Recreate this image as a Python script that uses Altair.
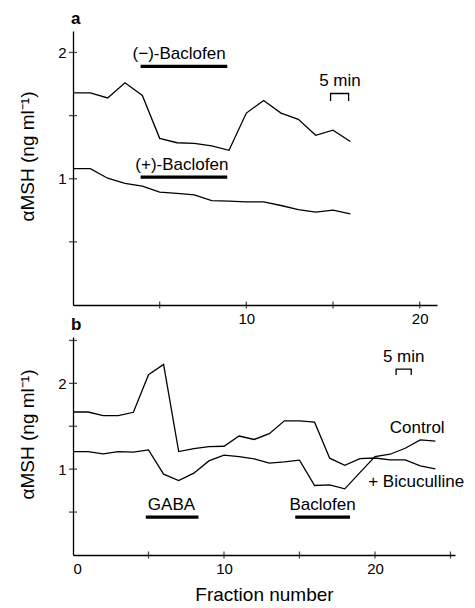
import altair as alt
import pandas as pd

FONT = "Liberation Sans"

# ---------------- Panel a ----------------
frac_a = list(range(17))
minus_baclofen = [1.68, 1.68, 1.64, 1.76, 1.66, 1.32, 1.285, 1.28, 1.26, 1.225, 1.52, 1.62,
                  1.52, 1.47, 1.344, 1.384, 1.295]
plus_baclofen = [1.08, 1.08, 1.004, 0.964, 0.942, 0.894, 0.884, 0.873, 0.826, 0.823, 0.816,
                 0.816, 0.788, 0.756, 0.736, 0.752, 0.721]

# ---------------- Panel b ----------------
frac_b = list(range(25))
bicuculline = [1.666, 1.666, 1.623, 1.623, 1.663, 2.10, 2.22, 1.205, 1.24, 1.263, 1.267,
               1.386, 1.346, 1.414, 1.563, 1.563, 1.548, 1.128, 1.046, 1.123, 1.13, 1.108,
               1.108, 1.038, 1.003]
control = [1.205, 1.205, 1.178, 1.205, 1.198, 1.224, 0.942, 0.868, 0.953, 1.096, 1.163,
           1.147, 1.12, 1.07, 1.086, 1.106, 0.81, 0.817, 0.771, 0.96, 1.147, 1.174, 1.244,
           1.341, 1.326]

# axis ticks
ya_ticks = [0.5, 1, 1.5, 2]
xa_ticks = [5, 10, 15, 20]
yb_ticks = [0.5, 1, 1.5, 2, 2.5]
xb_ticks = [5, 10, 15, 20, 25]
ya_labels = [1, 2]
xa_labels = [10, 20]
yb_labels = [1, 2]
xb_labels = [0, 10, 20]

# annotations (data units)
bars_a_x = [3.9, 3.9]
bars_a_x2 = [8.9, 8.9]
bars_a_y = [1.89, 1.013]
texts_a = ["(\u2212)-Baclofen", "(+)-Baclofen", "5 min"]
texts_a_x = [6.12, 6.28, 15.4]
texts_a_y = [1.99, 1.108, 1.775]
bracket_a_x = [14.86, 14.86, 15.9, 15.9]
bracket_a_y = [1.616, 1.675, 1.675, 1.616]

bars_b_x = [4.82, 14.72]
bars_b_x2 = [8.31, 18.35]
bars_b_y = [0.442, 0.442]
texts_b = ["GABA", "Baclofen", "Control", "5 min"]
texts_b_x = [6.52, 16.53, 22.8, 21.9]
texts_b_y = [0.585, 0.585, 1.477, 2.31]
bic_text = ["+ Bicuculline"]
bic_text_x = [19.55]
bic_text_y = [0.845]
bracket_b_x = [21.4, 21.4, 22.4, 22.4]
bracket_b_y = [2.097, 2.166, 2.166, 2.097]

YTITLE = "\u03b1MSH (ng ml\u207b\u00b9)"


def series_df(xs, named):
    rows = []
    for name, vals in named.items():
        for x, v in zip(xs, vals):
            rows.append({"x": x, "y": v, "series": name})
    return pd.DataFrame(rows)


def panel(line_df, xdom, ydom, w, h, xticks, yticks, xlabels, ylabels,
          bars, texts, bracket, extra_text, letter, xtitle, title_y):
    xs = alt.Scale(domain=xdom, nice=False, zero=False)
    ys = alt.Scale(domain=ydom, nice=False, zero=False)
    xaxis = alt.Axis(values=xlabels, ticks=False, tickSize=0, labelPadding=6,
                     labelFontSize=15, labelFont=FONT, domainWidth=1.3,
                     titleFont=FONT, titleFontSize=19,
                     titleFontWeight="normal", titlePadding=9, grid=False)
    yaxis = alt.Axis(values=ylabels, ticks=False, tickSize=0, labelPadding=7,
                     labelFontSize=15, labelFont=FONT, domainWidth=1.3,
                     titleFont=FONT, titleFontSize=19,
                     titleFontWeight="normal", titleX=-36, titleY=title_y,
                     titleBaseline="bottom", grid=False)
    xt = xtitle if xtitle else None
    X = lambda f: alt.X(f, scale=xs, axis=xaxis, title=xt)
    Y = lambda f: alt.Y(f, scale=ys, axis=yaxis, title=YTITLE)
    lines = alt.Chart(line_df).mark_line(color="black", strokeWidth=1.3).encode(
        x=X("x:Q"), y=Y("y:Q"), detail="series:N",
    )
    ytk = alt.Chart(pd.DataFrame({"y": yticks})).mark_tick(
        orient="horizontal", size=8, thickness=1.3, color="black").encode(
        x=alt.XDatum(xdom[0], type="quantitative", scale=xs, axis=xaxis, title=xt),
        y=Y("y:Q"))
    xtk = alt.Chart(pd.DataFrame({"x": xticks})).mark_tick(
        orient="vertical", size=7, thickness=1.3, color="black").encode(
        x=X("x:Q"),
        y=alt.YDatum(ydom[0], type="quantitative", scale=ys, axis=yaxis, title=YTITLE))
    bar = alt.Chart(bars).mark_rule(color="black", strokeWidth=3.2).encode(
        x=X("x:Q"), x2="x2:Q", y=Y("y:Q"))
    txt = alt.Chart(texts).mark_text(font=FONT, fontSize=17, align="center",
                                     baseline="middle", color="black").encode(
        x=X("x:Q"), y=Y("y:Q"), text="t:N")
    br = alt.Chart(bracket).mark_line(color="black", strokeWidth=1.3).encode(
        x=X("x:Q"), y=Y("y:Q"), order="o:Q")
    layers = [lines, ytk, xtk, bar, txt, br]
    if extra_text is not None:
        layers.append(alt.Chart(extra_text).mark_text(
            font=FONT, fontSize=17, align="left", baseline="middle", color="black").encode(
            x=X("x:Q"), y=Y("y:Q"), text="t:N"))
    return alt.layer(*layers).properties(
        width=w, height=h,
        title=alt.TitleParams(letter, anchor="start", frame="group", font=FONT,
                              fontSize=17, fontWeight="bold", offset=3, dx=-2),
    )


df_a = series_df(frac_a, {"(-)-Baclofen": minus_baclofen, "(+)-Baclofen": plus_baclofen})
df_b = series_df(frac_b, {"Control": control, "Bicuculline": bicuculline})

bars_a = pd.DataFrame({"x": bars_a_x, "x2": bars_a_x2, "y": bars_a_y})
texts_a_df = pd.DataFrame({"t": texts_a, "x": texts_a_x, "y": texts_a_y})
bracket_a = pd.DataFrame({"x": bracket_a_x, "y": bracket_a_y, "o": list(range(4))})

bars_b = pd.DataFrame({"x": bars_b_x, "x2": bars_b_x2, "y": bars_b_y})
texts_b_df = pd.DataFrame({"t": texts_b, "x": texts_b_x, "y": texts_b_y})
bic_df = pd.DataFrame({"t": bic_text, "x": bic_text_x, "y": bic_text_y})
bracket_b = pd.DataFrame({"x": bracket_b_x, "y": bracket_b_y, "o": list(range(4))})

pa = panel(df_a, [0, 21], [0, 2.17], 364, 274, xa_ticks, ya_ticks, xa_labels, ya_labels,
           bars_a, texts_a_df, bracket_a, None, "a", None, 125)
pb = panel(df_b, [0, 25.3], [0, 2.54], 382, 218, xb_ticks, yb_ticks, xb_labels, yb_labels,
           bars_b, texts_b_df, bracket_b, bic_df, "b", "Fraction number", 97)

chart = alt.vconcat(pa, pb, spacing=32, bounds="flush").properties(
    padding={"left": 10, "top": 2, "right": 0, "bottom": 0}
).configure_view(stroke=None).configure_axis(
    domainColor="black", labelColor="black", titleColor="black"
)

chart.save("out.html", embed_options={"renderer": "svg", "actions": False})
